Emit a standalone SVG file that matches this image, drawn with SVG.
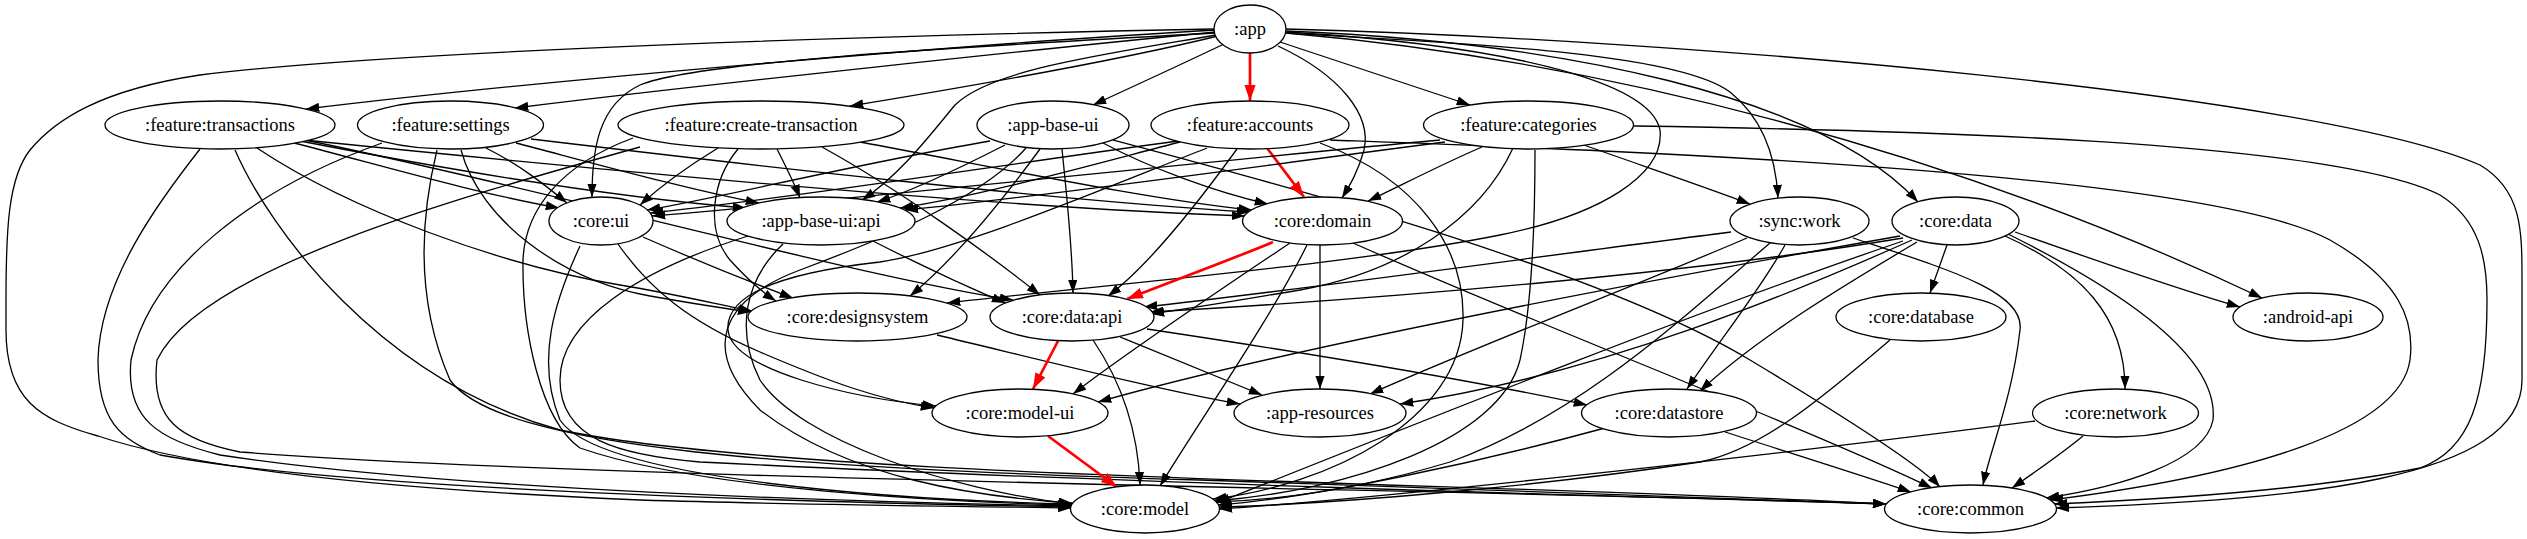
<svg xmlns="http://www.w3.org/2000/svg" width="2527" height="539" viewBox="0 0 2527 539">
<style>
.e{fill:none;stroke:#000;stroke-width:1.3;marker-end:url(#a)}
.r{fill:none;stroke:#f00;stroke-width:2.7;marker-end:url(#ar)}
.n ellipse{fill:#fff;stroke:#000;stroke-width:1.3}
.n text{font-family:"Liberation Serif","Times New Roman",serif;font-size:18.5px;text-anchor:middle;fill:#000}
</style>
<defs>
<marker id="a" viewBox="0 0 10 7" refX="10" refY="3.5" markerWidth="13.3" markerHeight="9.3" markerUnits="userSpaceOnUse" orient="auto"><path d="M0,0L10,3.5L0,7z" fill="#000"/></marker>
<marker id="ar" viewBox="0 0 10 7" refX="10" refY="3.5" markerWidth="16" markerHeight="11.2" markerUnits="userSpaceOnUse" orient="auto"><path d="M0,0L10,3.5L0,7z" fill="#f00"/></marker>
</defs>
<rect width="2527" height="539" fill="#fff"/>
<g id="edges">
<path class="e" d="M1216,30 C1000,42 560,78 306,109"/>
<path class="e" d="M1216,32 C1050,48 700,85 515,108"/>
<path class="e" d="M1218,36 C1120,60 960,88 850,106"/>
<path class="e" d="M1224,44 C1180,65 1130,88 1093,105"/>
<path class="r" d="M1250,53 L1250,101"/>
<path class="e" d="M1280,42 C1340,62 1410,85 1470,105"/>
<path class="e" d="M1215,33 C1000,45 700,60 640,85 C598,105 592,150 592,197"/>
<path class="e" d="M1216,35 C1100,55 990,70 955,105 C930,135 900,175 862,200"/>
<path class="e" d="M1278,46 C1340,75 1372,115 1364,150 C1358,172 1350,185 1342,198"/>
<path class="e" d="M1285,33 C1500,45 1680,55 1730,92 C1765,120 1776,160 1778,198"/>
<path class="e" d="M1286,31 C1560,42 1820,95 1918,202"/>
<path class="e" d="M1286,33 C1600,60 1950,150 2262,298"/>
<path class="e" d="M1286,29 C1700,40 2320,95 2480,165 C2522,190 2522,230 2522,280 L2522,380 C2522,480 2300,500 2056,508"/>
<path class="e" d="M1214,29 C900,35 400,50 200,75 C100,90 55,120 30,150 C8,178 6,230 6,300 L6,330 C6,400 40,420 98,436 C200,470 400,490 640,500 C800,505 950,506 1071,508"/>
<path class="e" d="M1287,32 C1500,45 1650,80 1660,130 C1665,175 1600,215 1500,235 C1350,265 1100,285 947,303"/>
<path class="e" d="M294,143 C380,165 470,192 559,208"/>
<path class="e" d="M300,141 C450,170 620,198 746,208"/>
<path class="e" d="M304,140 C600,170 1000,208 1245,216"/>
<path class="e" d="M257,148 C350,210 500,265 620,285 C680,295 720,305 752,311"/>
<path class="e" d="M305,140 C550,190 850,275 1013,300"/>
<path class="e" d="M200,149 C160,200 100,280 98,360 C98,420 120,440 160,455 C350,490 800,502 1072,507"/>
<path class="e" d="M235,150 C270,230 380,380 560,430 C800,480 1500,482 1886,504"/>
<path class="e" d="M486,148 C520,165 545,185 567,203"/>
<path class="e" d="M516,143 C600,165 690,190 759,203"/>
<path class="e" d="M531,139 C750,165 1050,200 1250,212"/>
<path class="e" d="M461,150 C480,220 560,280 650,296 C690,303 720,308 751,312"/>
<path class="e" d="M382,143 C250,190 150,270 131,360 C125,420 160,440 220,455 C450,490 850,502 1072,506"/>
<path class="e" d="M437,150 C420,220 415,300 450,380 C500,450 800,468 1200,480 C1500,490 1750,498 1886,504"/>
<path class="e" d="M718,148 C690,165 662,185 640,205"/>
<path class="e" d="M777,149 C785,165 793,180 800,198"/>
<path class="e" d="M860,142 C1000,168 1150,200 1252,210"/>
<path class="e" d="M738,149 C712,180 705,230 730,260 C748,280 762,292 776,301"/>
<path class="e" d="M822,147 C900,190 990,255 1040,295"/>
<path class="e" d="M633,138 C560,165 525,210 523,260 C522,330 540,420 580,448 C700,490 950,502 1071,505"/>
<path class="e" d="M640,147 C450,200 200,270 157,360 C150,420 180,440 240,452 C600,480 1500,490 1886,504"/>
<path class="e" d="M990,141 C850,165 720,198 647,210"/>
<path class="e" d="M1005,145 C960,168 915,190 877,202"/>
<path class="e" d="M1103,143 C1150,168 1215,192 1268,204"/>
<path class="e" d="M1040,149 C1010,190 960,255 910,296"/>
<path class="e" d="M1062,149 C1066,190 1072,240 1073,293"/>
<path class="e" d="M1026,148 C980,200 880,240 800,270 C720,300 700,350 760,410 C850,480 980,497 1072,503"/>
<path class="e" d="M1113,140 C1300,190 1600,270 1750,360 C1850,420 1920,465 1940,487"/>
<path class="e" d="M1178,141 C1000,165 780,200 650,213"/>
<path class="e" d="M1180,142 C1080,168 980,196 900,208"/>
<path class="r" d="M1267,148 L1304,197"/>
<path class="e" d="M1237,149 C1200,200 1150,265 1108,296"/>
<path class="e" d="M1207,148 C1100,190 960,250 880,262 C790,272 725,292 728,330 C732,370 850,398 936,406"/>
<path class="e" d="M1320,143 C1420,180 1465,250 1463,320 C1460,420 1330,485 1213,499"/>
<path class="e" d="M1330,140 C1600,150 2200,170 2330,240 C2400,280 2415,320 2410,360 C2400,430 2250,475 2050,500"/>
<path class="e" d="M1440,140 C1200,162 850,200 652,216"/>
<path class="e" d="M1445,142 C1250,167 1050,196 905,210"/>
<path class="e" d="M1482,147 C1440,165 1400,186 1368,201"/>
<path class="e" d="M1584,145 C1640,165 1700,185 1750,204"/>
<path class="e" d="M1513,148 C1480,220 1400,272 1300,290 C1240,300 1200,307 1151,314"/>
<path class="e" d="M1535,150 C1535,220 1533,300 1520,360 C1500,440 1350,490 1215,501"/>
<path class="e" d="M1634,126 C1900,130 2330,140 2440,195 C2480,220 2487,260 2487,300 C2487,400 2470,450 2420,468 C2300,492 2150,500 2054,504"/>
<path class="e" d="M643,237 C700,262 750,282 793,298"/>
<path class="e" d="M618,244 C650,290 690,322 760,352 C830,382 880,400 934,408"/>
<path class="e" d="M580,246 C555,300 535,360 560,420 C600,480 900,500 1072,504"/>
<path class="e" d="M873,241 C920,265 970,288 1005,303"/>
<path class="e" d="M783,244 C745,280 735,330 760,380 C800,440 950,490 1072,504"/>
<path class="e" d="M748,236 C640,270 560,320 560,380 C560,440 620,455 700,462 C1100,482 1600,496 1886,504"/>
<path class="r" d="M1273,242 C1230,260 1170,282 1127,299"/>
<path class="e" d="M1290,243 C1220,290 1130,350 1073,394"/>
<path class="e" d="M1320,245 L1320,389"/>
<path class="e" d="M1307,245 C1270,320 1200,420 1160,486"/>
<path class="e" d="M1353,243 C1550,330 1800,425 1932,488"/>
<path class="e" d="M1731,232 C1550,255 1300,290 1144,307"/>
<path class="e" d="M1747,238 C1650,280 1480,345 1370,394"/>
<path class="e" d="M1785,245 C1760,290 1720,340 1687,389"/>
<path class="e" d="M1770,243 C1680,320 1580,415 1450,462 C1350,492 1270,500 1216,502"/>
<path class="e" d="M1853,238 C1950,270 2025,292 2020,330 C2012,400 1990,450 1983,485"/>
<path class="e" d="M1903,238 C1700,272 1400,298 1150,312"/>
<path class="e" d="M1900,236 C1650,280 1300,345 1098,402"/>
<path class="e" d="M1912,240 C1800,290 1600,375 1400,404"/>
<path class="e" d="M1917,242 C1850,282 1760,335 1700,391"/>
<path class="e" d="M1947,245 L1930,293"/>
<path class="e" d="M2005,236 C2080,270 2125,315 2125,389"/>
<path class="e" d="M2015,232 C2100,262 2180,290 2240,307"/>
<path class="e" d="M2008,234 C2100,280 2220,350 2213,420 C2205,462 2120,487 2046,498"/>
<path class="e" d="M1903,241 C1700,310 1450,410 1217,503"/>
<path class="e" d="M937,335 C1050,362 1160,390 1240,404"/>
<path class="r" d="M1058,341 L1033,389"/>
<path class="e" d="M1093,340 C1120,380 1138,430 1140,485"/>
<path class="e" d="M1120,337 C1170,357 1220,378 1262,395"/>
<path class="e" d="M1147,329 C1300,352 1480,382 1587,405"/>
<path class="r" d="M1048,436 L1117,487"/>
<path class="e" d="M1605,428 C1480,462 1320,497 1218,505"/>
<path class="e" d="M1725,432 C1800,456 1870,478 1911,492"/>
<path class="e" d="M1890,340 C1820,400 1760,450 1700,462 C1500,492 1300,505 1219,507"/>
<path class="e" d="M2035,421 C1800,452 1400,497 1219,509"/>
<path class="e" d="M2083,436 C2060,455 2035,472 2012,488"/>
</g>
<g id="n-app" class="n"><ellipse cx="1250" cy="29" rx="36" ry="24"/><text x="1250" y="35">:app</text></g>
<g id="n-feature-transactions" class="n"><ellipse cx="220" cy="125" rx="115" ry="24"/><text x="220" y="131">:feature:transactions</text></g>
<g id="n-feature-settings" class="n"><ellipse cx="450.5" cy="125" rx="93" ry="24"/><text x="450.5" y="131">:feature:settings</text></g>
<g id="n-feature-create-transaction" class="n"><ellipse cx="761" cy="125" rx="143" ry="24"/><text x="761" y="131">:feature:create-transaction</text></g>
<g id="n-app-base-ui" class="n"><ellipse cx="1053" cy="125" rx="76" ry="24"/><text x="1053" y="131">:app-base-ui</text></g>
<g id="n-feature-accounts" class="n"><ellipse cx="1250" cy="125" rx="99" ry="24"/><text x="1250" y="131">:feature:accounts</text></g>
<g id="n-feature-categories" class="n"><ellipse cx="1528.5" cy="125" rx="105" ry="24"/><text x="1528.5" y="131">:feature:categories</text></g>
<g id="n-core-ui" class="n"><ellipse cx="601" cy="221" rx="52" ry="24"/><text x="601" y="227">:core:ui</text></g>
<g id="n-app-base-ui-api" class="n"><ellipse cx="821" cy="221" rx="94" ry="24"/><text x="821" y="227">:app-base-ui:api</text></g>
<g id="n-core-domain" class="n"><ellipse cx="1322.5" cy="221" rx="80" ry="24"/><text x="1322.5" y="227">:core:domain</text></g>
<g id="n-sync-work" class="n"><ellipse cx="1799.5" cy="221" rx="69.5" ry="24"/><text x="1799.5" y="227">:sync:work</text></g>
<g id="n-core-data" class="n"><ellipse cx="1955.5" cy="221" rx="63.5" ry="24"/><text x="1955.5" y="227">:core:data</text></g>
<g id="n-core-designsystem" class="n"><ellipse cx="857.5" cy="317" rx="109.5" ry="24"/><text x="857.5" y="323">:core:designsystem</text></g>
<g id="n-core-data-api" class="n"><ellipse cx="1072" cy="317" rx="82" ry="24"/><text x="1072" y="323">:core:data:api</text></g>
<g id="n-core-database" class="n"><ellipse cx="1921" cy="317" rx="85" ry="24"/><text x="1921" y="323">:core:database</text></g>
<g id="n-android-api" class="n"><ellipse cx="2308" cy="317" rx="75" ry="24"/><text x="2308" y="323">:android-api</text></g>
<g id="n-core-model-ui" class="n"><ellipse cx="1020" cy="413" rx="88" ry="24"/><text x="1020" y="419">:core:model-ui</text></g>
<g id="n-app-resources" class="n"><ellipse cx="1320" cy="413" rx="86" ry="24"/><text x="1320" y="419">:app-resources</text></g>
<g id="n-core-datastore" class="n"><ellipse cx="1669" cy="413" rx="87.5" ry="24"/><text x="1669" y="419">:core:datastore</text></g>
<g id="n-core-network" class="n"><ellipse cx="2115.5" cy="413" rx="83" ry="24"/><text x="2115.5" y="419">:core:network</text></g>
<g id="n-core-model" class="n"><ellipse cx="1145" cy="509" rx="74.5" ry="24"/><text x="1145" y="515">:core:model</text></g>
<g id="n-core-common" class="n"><ellipse cx="1970.5" cy="509" rx="86" ry="24"/><text x="1970.5" y="515">:core:common</text></g>
</svg>
